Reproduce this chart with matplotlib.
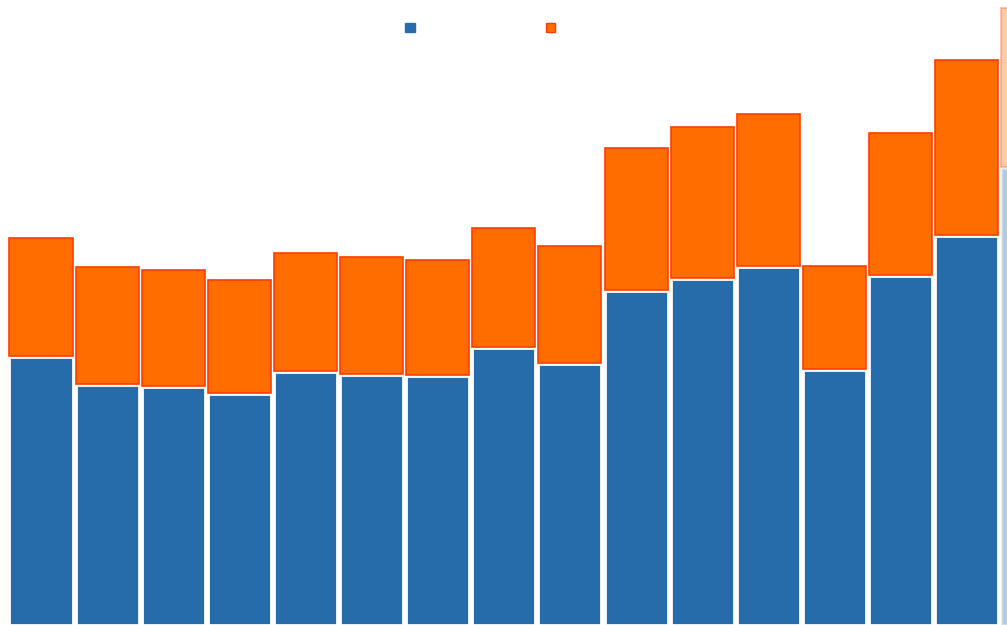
import matplotlib
matplotlib.use("Agg")
import matplotlib.pyplot as plt
from matplotlib.patches import Patch
import numpy as np

# values (pixel heights, arbitrary units)
series_a = [268, 240, 238, 231, 253, 250, 249, 277, 261, 334, 346, 358, 255, 349, 389, 457]
series_b = [118, 117, 116, 113, 118, 117, 115, 119, 117, 142, 151, 152, 103, 142, 175, 159]
categories = list(range(len(series_a)))

blue = "#266cab"
orange = "#ff6d00"

fig = plt.figure(figsize=(10.07, 6.25), dpi=100)
ax = fig.add_axes([0, 0, 1, 1])

x = np.array(categories)
a = np.array(series_a)
b = np.array(series_b)
w = 0.953

# last bar is faded / half out of view
alphas = [1.0] * (len(x) - 1) + [0.35]
for xi, ai, bi, al in zip(x, a, b, alphas):
    ax.bar(xi, ai, width=w, color=blue, edgecolor="white", linewidth=2, alpha=al)
    ax.bar(xi, bi, bottom=ai + 1, width=w, color=orange, edgecolor="#ff3d00",
           linewidth=1.2, alpha=al)

ax.set_xlim(-0.62, 14.61)
ax.set_ylim(0, 625)
ax.axis("off")

handles = [Patch(facecolor=blue, edgecolor=blue), Patch(facecolor=orange, edgecolor="#ff3d00")]
ax.legend(handles, ["", ""], loc="upper center", bbox_to_anchor=(0.477, 0.986), ncol=2,
          frameon=False, handlelength=0.7, handleheight=0.7, columnspacing=9.4,
          handletextpad=0.0)

fig.savefig("out.png", dpi=100)
